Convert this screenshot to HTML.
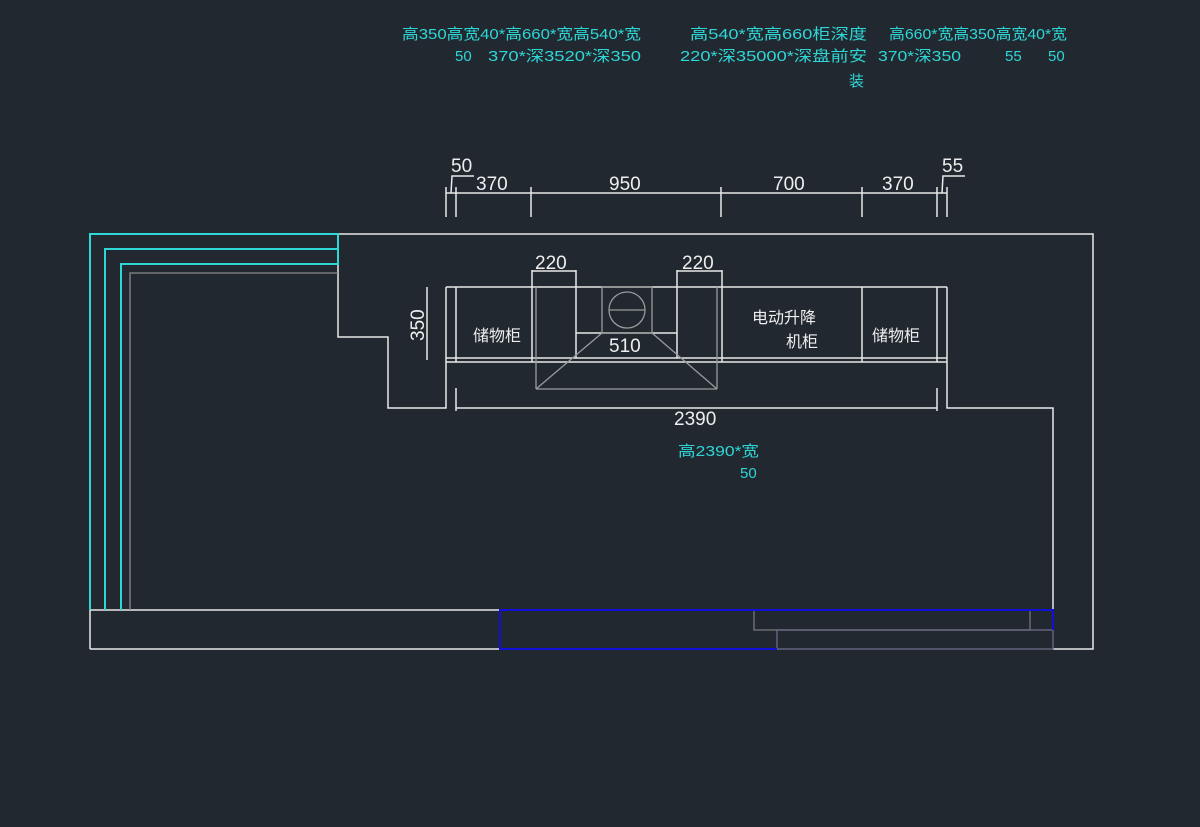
<!DOCTYPE html>
<html><head><meta charset="utf-8"><style>
html,body{margin:0;padding:0;background:#212830;}
svg{display:block}
text{font-family:"Liberation Sans","Noto Sans CJK SC",sans-serif;}
.c{fill:#2fd6d6;font-size:15px}
.w{fill:#eeeeee;font-size:19px}
.z{fill:#eeeeee;font-size:16px}
</style></head><body>
<svg width="1200" height="827" viewBox="0 0 1200 827">
<rect width="1200" height="827" fill="#212830"/>
<g class="c">
<text x="402" y="39" textLength="239" lengthAdjust="spacingAndGlyphs">高350高宽40*高660*宽高540*宽</text>
<text x="455" y="61">50</text>
<text x="488" y="61" textLength="153" lengthAdjust="spacingAndGlyphs">370*深3520*深350</text>
<text x="690" y="39" textLength="177" lengthAdjust="spacingAndGlyphs">高540*宽高660柜深度</text>
<text x="680" y="61" textLength="187" lengthAdjust="spacingAndGlyphs">220*深35000*深盘前安</text>
<text x="849" y="86">装</text>
<text x="889" y="39" textLength="178" lengthAdjust="spacingAndGlyphs">高660*宽高350高宽40*宽</text>
<text x="878" y="61" textLength="83" lengthAdjust="spacingAndGlyphs">370*深350</text>
<text x="1005" y="61">55</text>
<text x="1048" y="61">50</text>
<text x="678" y="456" textLength="81" lengthAdjust="spacingAndGlyphs">高2390*宽</text>
<text x="740" y="478">50</text>
</g>
<g fill="none" stroke="#e8e8e8" stroke-width="1.5">
<polyline points="338,234 1093,234 1093,649 1053,649"/>
<polyline points="90,649 500,649"/>
<polyline points="90,610 500,610"/>
<line x1="90" y1="610" x2="90" y2="649"/>
<polyline points="338,249 338,337 388,337 388,408 446,408 446,287"/>
<polyline points="947,287 947,408 1053,408 1053,610"/>
<line x1="446" y1="287" x2="947" y2="287"/>
<line x1="446" y1="358" x2="947" y2="358"/>
<line x1="446" y1="362" x2="947" y2="362"/>
<line x1="456" y1="287" x2="456" y2="362"/>
<line x1="532" y1="270" x2="532" y2="362"/>
<line x1="576" y1="270" x2="576" y2="358"/>
<line x1="677" y1="270" x2="677" y2="358"/>
<line x1="722" y1="270" x2="722" y2="362"/>
<line x1="862" y1="287" x2="862" y2="362"/>
<line x1="937" y1="287" x2="937" y2="362"/>
<line x1="576" y1="333" x2="677" y2="333"/>
<line x1="532" y1="271" x2="576" y2="271"/>
<line x1="677" y1="271" x2="722" y2="271"/>
<line x1="446" y1="193" x2="947" y2="193"/>
<line x1="446" y1="187" x2="446" y2="217"/>
<line x1="456" y1="187" x2="456" y2="217"/>
<line x1="531" y1="187" x2="531" y2="217"/>
<line x1="721" y1="187" x2="721" y2="217"/>
<line x1="862" y1="187" x2="862" y2="217"/>
<line x1="937" y1="187" x2="937" y2="217"/>
<line x1="947" y1="187" x2="947" y2="217"/>
<polyline points="451,193 452,176 474,176"/>
<polyline points="942,193 943,176 965,176"/>
<line x1="456" y1="408" x2="937" y2="408"/>
<line x1="456" y1="388" x2="456" y2="411"/>
<line x1="937" y1="388" x2="937" y2="411"/>
<line x1="427" y1="287" x2="427" y2="360"/>
</g>
<g fill="none" stroke="#9a9a9a" stroke-width="1.3">
<line x1="536" y1="287" x2="536" y2="389"/>
<line x1="717" y1="287" x2="717" y2="389"/>
<line x1="536" y1="389" x2="717" y2="389"/>
<rect x="602" y="287" width="50" height="46"/>
<line x1="602" y1="333" x2="536" y2="389"/>
<line x1="652" y1="333" x2="717" y2="389"/>
<circle cx="627" cy="310" r="18"/>
<line x1="609" y1="310" x2="645" y2="310"/>
<polyline points="130,610 130,273 338,273" stroke="#8a8a8a"/>
<rect x="754" y="610" width="276" height="20" stroke="#777"/>
<rect x="777" y="630" width="276" height="19" stroke="#6c6c8a"/>
</g>
<g fill="none" stroke="#2fd6d6" stroke-width="2">
<polyline points="90,610 90,234 338,234 338,264 121,264 121,610"/>
<polyline points="105,610 105,249 338,249"/>
</g>
<polyline points="777,649 500,649 500,610 1053,610 1053,630" fill="none" stroke="#1010d8" stroke-width="2"/>
<g class="w">
<text x="451" y="172">50</text>
<text x="476" y="190">370</text>
<text x="609" y="190">950</text>
<text x="773" y="190">700</text>
<text x="882" y="190">370</text>
<text x="942" y="172">55</text>
<text x="535" y="269">220</text>
<text x="682" y="269">220</text>
<text x="609" y="352">510</text>
<text x="674" y="425">2390</text>
<text transform="translate(424,341) rotate(-90)">350</text>
</g>
<g class="z">
<text x="473" y="341">储物柜</text>
<text x="752" y="323">电动升降</text>
<text x="786" y="347">机柜</text>
<text x="872" y="341">储物柜</text>
</g>
</svg>
</body></html>
